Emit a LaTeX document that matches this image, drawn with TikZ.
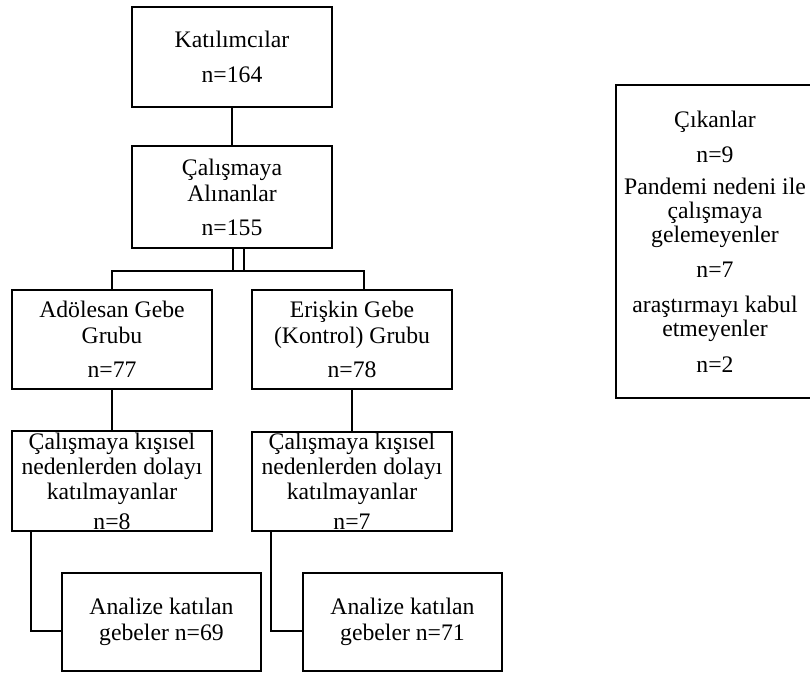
\documentclass[tikz,border=0pt]{standalone}
\usepackage{fontspec}
\setmainfont{Liberation Serif}
\begin{document}
\begin{tikzpicture}[x=1pt,y=-1pt,
  boxstyle/.style={draw=black,line width=1.8pt,align=center,inner sep=0pt,
    font=\fontsize{23.7}{26}\selectfont,minimum width=200pt,minimum height=100pt},
  conn/.style={draw=black,line width=1.8pt}]
\useasboundingbox (0,0) rectangle (810,672);
\fill[white] (0,0) rectangle (810,672);
\node[boxstyle] (b1) at (232,57) {Katılımcılar\\[9pt]n=164};
\node[boxstyle,minimum height=102pt] (b2) at (232,197) {Çalışmaya\\Alınanlar\\[8pt]n=155};
\node[boxstyle,minimum height=99pt] (b3) at (112,339.5) {Adölesan Gebe\\Grubu\\[8pt]n=77};
\node[boxstyle,minimum height=99pt] (b4) at (352,339.5) {Erişkin Gebe\\(Kontrol) Grubu\\[8pt]n=78};
\node[boxstyle,font=\fontsize{23.7}{25}\selectfont] (b5) at (112,481) {Çalışmaya kışısel\\nedenlerden dolayı\\katılmayanlar\\[5pt]n=8};
\node[boxstyle,minimum height=99pt,font=\fontsize{23.7}{25}\selectfont] (b6) at (352,481.5) {Çalışmaya kışısel\\nedenlerden dolayı\\katılmayanlar\\[5pt]n=7};
\node[boxstyle,minimum width=199pt,minimum height=98pt] (b7) at (161.5,622) {Analize katılan\\gebeler n=69};
\node[boxstyle,minimum width=199pt,minimum height=98pt] (b8) at (402.5,622) {Analize katılan\\gebeler n=71};
\node[boxstyle,draw=none,minimum width=210pt,minimum height=311pt] (b9box) at (722,241.5) {};
\draw[conn] (b9box.north east) -- (b9box.north west) -- (b9box.south west) -- (b9box.south east);
\node[boxstyle,draw=none,minimum width=0pt,minimum height=0pt,font=\fontsize{23.7}{24}\selectfont] (b9) at (715,241.5)
  {Çıkanlar\\[11pt]n=9\\[8pt]Pandemi nedeni ile\\çalışmaya\\gelemeyenler\\[11pt]n=7\\[11pt]araştırmayı kabul\\etmeyenler\\[12pt]n=2};
% connectors
\draw[conn] (b1.south) -- (b2.north);
\coordinate (bar) at (232,271);
\draw[conn] ([xshift=1pt]b2.south) -- ([xshift=1pt]bar);
\draw[conn] ([xshift=12pt]b2.south) -- ([xshift=12pt]bar);
\draw[conn] (b3.north) |- (bar) -| ([xshift=12pt]b4.north);
\draw[conn] (b3.south) -- (b3.south |- b5.north);
\draw[conn] (b4.south) -- (b4.south |- b6.north);
\draw[conn] ([xshift=20pt]b5.south west) |- ([yshift=-9pt]b7.west);
\draw[conn] ([xshift=20pt]b6.south west) |- ([yshift=-9pt]b8.west);
\end{tikzpicture}
\end{document}
